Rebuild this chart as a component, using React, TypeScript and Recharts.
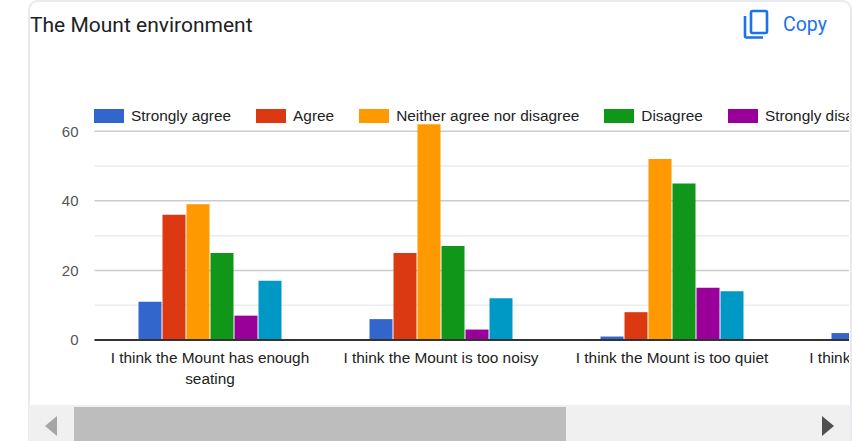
import { BarChart, Bar, XAxis, YAxis, CartesianGrid, Text } from 'recharts'

const categories = [
  'I think the Mount has enough seating',
  'I think the Mount is too noisy',
  'I think the Mount is too quiet',
  'I think the Mount is too cold',
]
const stronglyAgree = [11, 6, 1, 2]
const agree = [36, 25, 8, null]
const neither = [39, 62, 52, null]
const disagree = [25, 27, 45, null]
const stronglyDisagree = [7, 3, 15, null]
const lastAnswer = [17, 12, 14, null]

const majorTicks = [0, 20, 40, 60]
const minorTicks = [10, 30, 50]

const series = [
  { key: 'stronglyAgree', name: 'Strongly agree', color: '#3366cc', values: stronglyAgree },
  { key: 'agree', name: 'Agree', color: '#dc3912', values: agree },
  { key: 'neither', name: 'Neither agree nor disagree', color: '#ff9900', values: neither },
  { key: 'disagree', name: 'Disagree', color: '#109618', values: disagree },
  { key: 'stronglyDisagree', name: 'Strongly disagree', color: '#990099', values: stronglyDisagree },
  { key: 'lastAnswer', name: '', color: '#0099c6', values: lastAnswer },
]

const data = categories.map((category, i) => {
  const row: Record<string, any> = { category }
  series.forEach((s) => {
    row[s.key] = s.values[i]
  })
  return row
})

const chartFont = '"Liberation Sans", Arial, sans-serif'

// category labels wrap at about 215px, two lines 21px apart
const CategoryTick = ({ x, y, payload }: any) => (
  <Text
    x={x}
    y={y + 4}
    width={215}
    textAnchor="middle"
    verticalAnchor="start"
    lineHeight={21}
    fontSize={15.4}
    fontFamily={chartFont}
    fill="#222222"
  >
    {payload.value}
  </Text>
)

function CopyButton() {
  return (
    <div style={{ position: 'absolute', left: 743, top: 9, display: 'flex', alignItems: 'center', color: '#1a73e8' }}>
      <svg width={26} height={30} viewBox="0 0 26 30" fill="none" stroke="#1a73e8" strokeWidth={2.6}>
        <rect x={8} y={2} width={16} height={22} rx={1.5} />
        <path d="M2 7 V27 A1.5 1.5 0 0 0 3.5 28.5 H20" />
      </svg>
      <span style={{ marginLeft: 14, fontFamily: 'Roboto, sans-serif', fontSize: 19.5 }}>Copy</span>
    </div>
  )
}

function ScrollBar() {
  return (
    <div style={{ position: 'absolute', left: 29, top: 405, width: 821, height: 36, background: '#f0f0f0' }}>
      <div style={{ position: 'absolute', left: 45, top: 2, width: 492, height: 34, background: '#bdbdbd' }} />
      <svg style={{ position: 'absolute', left: 0, top: 0 }} width={821} height={36}>
        <polygon points="16,21 28,11 28,31" fill="#a6a6a6" />
        <polygon points="793,11 805,21 793,31" fill="#505050" />
      </svg>
    </div>
  )
}

export default function App() {
  return (
    <div style={{ position: 'fixed', left: 0, top: 0, width: 852, height: 441, background: '#fff', overflow: 'hidden' }}>
      {/* card outline */}
      <div
        style={{
          position: 'absolute',
          left: 28,
          top: 0,
          width: 820,
          height: 460,
          border: '2px solid #e8eaed',
          borderRadius: 10,
        }}
      />

      <div style={{ position: 'absolute', left: 0, top: 0, width: 849, height: 405, overflow: 'hidden' }}>
        <BarChart
          width={1030}
          height={405}
          data={data}
          margin={{ top: 96.5, right: 11.5, left: 0, bottom: 0 }}
          barGap={1}
          barCategoryGap={44}
        >
          <CartesianGrid vertical={false} horizontalValues={minorTicks} stroke="#ebebeb" strokeWidth={1.5} />
          <CartesianGrid vertical={false} horizontalValues={majorTicks} stroke="#cccccc" strokeWidth={1.5} />
          <XAxis
            dataKey="category"
            interval={0}
            height={65}
            tickLine={false}
            axisLine={{ stroke: '#333333', strokeWidth: 2 }}
            tick={<CategoryTick />}
          />
          <YAxis
            width={94.5}
            domain={[0, 70]}
            ticks={majorTicks}
            tickLine={false}
            axisLine={false}
            tick={{ fontSize: 15, fill: '#555555', fontFamily: chartFont }}
            tickMargin={10}
          />
          {series.map((s) => (
            <Bar key={s.key} dataKey={s.key} name={s.name} fill={s.color} isAnimationActive={false} />
          ))}
        </BarChart>
      </div>

      {/* legend sits over the plot and runs off the right edge */}
      <div
        style={{
          position: 'absolute',
          left: 94,
          top: 107,
          width: 755,
          overflow: 'hidden',
          display: 'flex',
          whiteSpace: 'nowrap',
          fontFamily: chartFont,
          fontSize: 15.4,
          color: '#222222',
          lineHeight: '18px',
        }}
      >
        {series.slice(0, 5).map((s) => (
          <div key={s.key} style={{ display: 'flex', alignItems: 'center', marginRight: 25, flexShrink: 0 }}>
            <span style={{ width: 30, height: 14, background: s.color, marginRight: 7 }} />
            <span>{s.name}</span>
          </div>
        ))}
      </div>

      <div style={{ position: 'absolute', left: 30, top: 13, fontFamily: 'Roboto, sans-serif', fontSize: 21, color: '#202124' }}>
        The Mount environment
      </div>
      <CopyButton />
      <ScrollBar />
    </div>
  )
}
